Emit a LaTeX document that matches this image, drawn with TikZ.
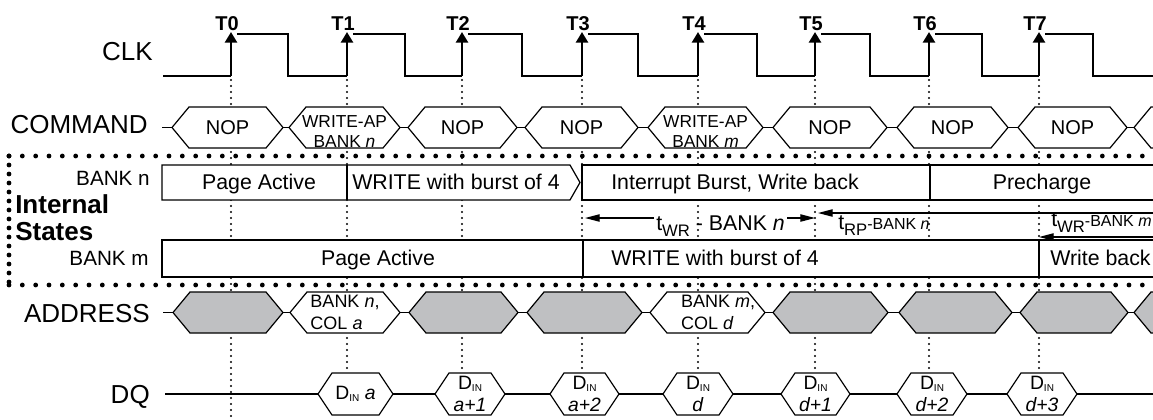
\documentclass[tikz,border=0pt]{standalone}
\usepackage{fontspec}
\setmainfont{Liberation Sans}
\usetikzlibrary{arrows.meta}
\definecolor{busfill}{HTML}{BFC0C2}

\newcommand{\lowsub}[1]{\raisebox{-4.5pt}{\fontsize{12.5}{14}\selectfont #1}}
\newcommand{\din}{D\raisebox{-1.5pt}{\fontsize{7.5}{8}\selectfont IN}}
% one bus value: [text style]{name}{shape style}{left x}{right x}{text}
\newcommand{\hexcell}[6][]{%
  \draw[#3] (#4,\rowy) -- ++(\slant,-\halfh) -- ({#5-\slant},{\rowy-\halfh})
    -- (#5,\rowy) -- ({#5-\slant},{\rowy+\halfh}) -- ({#4+\slant},{\rowy+\halfh}) -- cycle;
  \node[celltext,#1] (#2) at ({(#4+#5)/2},\rowy) {#6};}

\begin{document}
\begin{tikzpicture}[x=0.75pt, y=-0.75pt,
  clkline/.style={line width=2.1pt},
  tickline/.style={line width=1.8pt, line cap=round, dash pattern=on 0pt off 4.5pt},
  framedots/.style={line width=3.6pt, line cap=round, dash pattern=on 0pt off 10pt},
  buscell/.style={draw, line width=0.9pt, fill=white},
  busgray/.style={buscell, fill=busfill},
  busline/.style={line width=0.9pt},
  statebox/.style={draw, line width=0.9pt, fill=white},
  statesep/.style={line width=1.8pt},
  timearrow/.style={line width=0.9pt, -{Triangle[length=11pt,width=5.5pt]}},
  siglabel/.style={anchor=base east, inner sep=0, font=\fontsize{19.5}{23}\selectfont},
  banklabel/.style={siglabel, font=\fontsize{15.5}{18}\selectfont},
  edgelabel/.style={anchor=base, inner sep=0, font=\fontsize{15}{18}\selectfont\bfseries},
  grouplabel/.style={anchor=base west, inner sep=0, font=\fontsize{19.5}{23}\selectfont\bfseries},
  celltext/.style={inner sep=0, align=center, font=\fontsize{15}{17}\selectfont},
  statetext/.style={anchor=base, inner sep=0, font=\fontsize{16}{19}\selectfont},
  timelabel/.style={anchor=base west, inner xsep=1.5pt, inner ysep=0, font=\fontsize{16}{19}\selectfont}
]
\useasboundingbox (0,0) rectangle (1153,419);
\clip (0,0) rectangle (1153,419);

% dotted lines under the clock edges
\foreach \x/\yend in {231/419,347/373,462/373,582/373,698/373,815/373,929/373,1039/373}
  \draw[tickline] (\x,80) -- (\x,\yend);

% CLK
\node[siglabel] (clk) at (153,60) {CLK};
\draw[clkline] (163,76) -- (231,76);
\foreach \k/\rx/\fx/\nx in {0/231/288/347,1/347/405/462,2/462/522/582,3/582/638/698,
    4/698/757/815,5/815/870/929,6/929/982/1039,7/1039/1093/1160}{
  \coordinate (e\k) at (\rx,76);
  \draw[clkline,-{Triangle[length=8pt,width=9pt]}] (e\k) -- (\rx,32);
  \draw[clkline] (\rx+6,34) -- (\fx,34) -- (\fx,76) -- (\nx,76);
  \node[edgelabel] (t\k) at (\rx-4,30) {T\k};
}

% COMMAND
\node[siglabel] (cmd) at (148,133) {COMMAND};
\def\rowy{127.5}\def\halfh{20.5}\def\slant{17}
\draw[busline] (162,\rowy) -- (1153,\rowy);
\hexcell{c0}{buscell}{172}{283}{NOP}
\hexcell[font=\fontsize{13}{15.5}\selectfont,yshift=-3]{c1}{buscell}{289}{400}{WRITE-AP\\BANK \textit{n}}
\hexcell{c2}{buscell}{408}{517}{NOP}
\hexcell{c3}{buscell}{525}{638}{NOP}
\hexcell[font=\fontsize{13}{15.5}\selectfont,yshift=-3]{c4}{buscell}{648}{763}{WRITE-AP\\BANK \textit{m}}
\hexcell{c5}{buscell}{773}{887}{NOP}
\hexcell{c6}{buscell}{897}{1008}{NOP}
\hexcell{c7}{buscell}{1018}{1127}{NOP}
\hexcell{c8}{buscell}{1134}{1250}{}

% internal states, bank n
\node[banklabel] (bankn) at (150,185) {BANK n};
\filldraw[statebox] (570,200) -- (162,200) -- (162,165) -- (570,165) -- (580,182.5) -- cycle;
\filldraw[statebox] (1160,165) -- (582,165) -- (582,200) -- (1160,200);
\draw[statesep] (347,165) -- (347,200);
\draw[statesep] (930,165) -- (930,200);
\node[statetext] (npage) at (259,189) {Page Active};
\node[statetext] (nwrite) at (456,189) {WRITE with burst of 4};
\node[statetext] (nintr) at (735,189) {Interrupt Burst, Write back};
\node[statetext] (npre) at (1042,189) {Precharge};

% internal states, bank m
\node[banklabel] (bankm) at (149,265) {BANK m};
\filldraw[statebox] (1160,240) -- (162,240) -- (162,277) -- (1160,277);
\draw[statesep] (583,240) -- (583,277);
\draw[statesep] (1039,240) -- (1039,277);
\node[statetext] (mpage) at (378,265) {Page Active};
\node[statetext] (mwrite) at (715,265) {WRITE with burst of 4};
\node[statetext, anchor=base west] (mback) at (1050,265) {Write back};

% timing intervals
\coordinate (wrl) at (585,218);
\coordinate (wrr) at (815,218);
\node[timelabel] (twrn) at (654,230) {t\lowsub{WR} - BANK \textit{n}};
\draw[timearrow] (twrn.west |- wrl) -- (wrl);
\draw[timearrow] (twrn.east |- wrr) -- (wrr);

\coordinate (rpl) at (818,213);
\coordinate (rpend) at (1160,213);
\draw[timearrow] (rpend) -- (rpl);
\node[timelabel] (trpn) at (836,229) {t\lowsub{RP}{\fontsize{12}{13}\selectfont -BANK \textit{n}}};

\coordinate (wml) at (1039,237);
\coordinate (wmend) at (1160,237);
\draw[timearrow] (wmend) -- (wml);
\node[timelabel] (twrm) at (1049,226) {t\lowsub{WR}{\fontsize{12}{13}\selectfont -BANK \textit{m}}};

% frame of the internal states
\draw[framedots] (9,156) -- (1153,156);
\draw[framedots] (9,285) -- (1153,285);
\draw[framedots, dash pattern=on 0pt off 6.75pt] (9,156) -- (9,285);
\node[grouplabel] (intl) at (15,213) {Internal};
\node[grouplabel] (stat) at (15,240) {States};

% ADDRESS
\node[siglabel] (addr) at (150,322) {ADDRESS};
\def\rowy{312.5}
\draw[busline] (163,\rowy) -- (1153,\rowy);
\hexcell{a0}{busgray}{173}{283}{}
\hexcell[align=left,font=\fontsize{13.5}{17}\selectfont]{a1}{buscell}{290}{400}{BANK \textit{n},\\COL \textit{a}}
\hexcell{a2}{busgray}{409}{518}{}
\hexcell{a3}{busgray}{527}{642}{}
\hexcell[align=left,font=\fontsize{13.5}{17}\selectfont,xshift=8]{a4}{buscell}{650}{765}{BANK \textit{m},\\COL \textit{d}}
\hexcell{a5}{busgray}{773}{888}{}
\hexcell{a6}{busgray}{899}{1012}{}
\hexcell{a7}{busgray}{1020}{1128}{}
\hexcell{a8}{busgray}{1134}{1250}{}

% DQ
\node[siglabel] (dq) at (150,403) {DQ};
\def\rowy{394}\def\halfh{21}\def\slant{14}
\draw[busline] (165,\rowy) -- (1153,\rowy);
\hexcell[font=\fontsize{14.5}{16}\selectfont]{d0}{buscell}{318}{393}{\din\ \textit{a}}
\hexcell[font=\fontsize{14.5}{16}\selectfont]{d1}{buscell}{435}{505}{\din\\\textit{a+1}}
\hexcell[font=\fontsize{14.5}{16}\selectfont]{d2}{buscell}{550}{619}{\din\\\textit{a+2}}
\hexcell[font=\fontsize{14.5}{16}\selectfont]{d3}{buscell}{663}{733}{\din\\\textit{d}}
\hexcell[font=\fontsize{14.5}{16}\selectfont]{d4}{buscell}{781}{850}{\din\\\textit{d+1}}
\hexcell[font=\fontsize{14.5}{16}\selectfont]{d5}{buscell}{897}{967}{\din\\\textit{d+2}}
\hexcell[font=\fontsize{14.5}{16}\selectfont]{d6}{buscell}{1007}{1077}{\din\\\textit{d+3}}
\end{tikzpicture}
\end{document}
